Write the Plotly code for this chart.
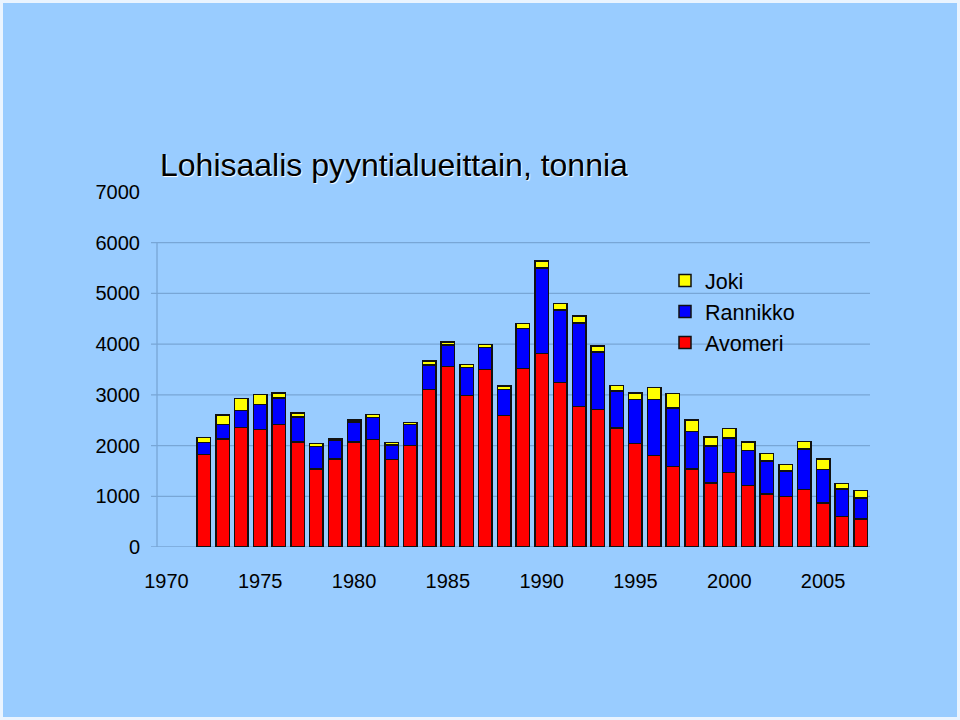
import plotly.graph_objects as go

years = list(range(1972, 2008))
avomeri = [1820, 2129, 2359, 2313, 2411, 2070, 1537, 1735, 2070, 2116,
           1721, 1997, 3101, 3561, 2989, 3502, 2595, 3515, 3817, 3239,
           2773, 2707, 2346, 2043, 1800, 1583, 1537, 1261, 1472, 1209,
           1045, 992, 1130, 867, 604, 552]
rannikko = [237, 289, 335, 499, 526, 492, 447, 374, 394, 440,
            290, 414, 486, 427, 552, 434, 506, 795, 1682, 1439,
            1642, 1137, 729, 861, 1104, 1157, 743, 730, 676, 696,
            650, 506, 802, 664, 539, 414]
joki = [105, 184, 230, 191, 98, 79, 53, 26, 39, 59,
        46, 40, 79, 59, 60, 59, 72, 99, 138, 125,
        138, 118, 112, 131, 237, 282, 223, 177, 184, 165,
        145, 131, 151, 204, 105, 151]
x_ticks = [1970, 1975, 1980, 1985, 1990, 1995, 2000, 2005]
y_ticks = [0, 1000, 2000, 3000, 4000, 5000, 6000, 7000]
grid_vals = [0, 1000, 2000, 3000, 4000, 5000, 6000]

BG = "#99CCFF"
GRID = "#78A6D6"
FONT = "Liberation Sans, Arial, sans-serif"

fig = go.Figure()
for name, vals, col in [("Avomeri", avomeri, "#FF0000"),
                        ("Rannikko", rannikko, "#0000FF"),
                        ("Joki", joki, "#FFFF00")]:
    fig.add_trace(go.Bar(x=years, y=vals, name=name, width=0.72,
                         marker=dict(color=col, line=dict(color="#111111", width=1.5))))

W, H = 960, 720
L, R, T, B = 157, 90, 192, 173
pw = W - L - R
ph = H - T - B

shapes = []
# background with thin light border
shapes.append(dict(type="rect", xref="paper", yref="paper", layer="below",
                   x0=(3 - L) / pw, x1=(W - 3 - L) / pw,
                   y0=-(B - 3) / ph, y1=(H - 3 - B) / ph,
                   fillcolor=BG, line=dict(width=0)))
for v in grid_vals:
    shapes.append(dict(type="line", xref="paper", yref="y", layer="below",
                       x0=-6 / pw, x1=1, y0=v, y1=v,
                       line=dict(color=GRID, width=1.3)))
shapes.append(dict(type="line", xref="paper", yref="y", layer="below",
                   x0=0, x1=0, y0=0, y1=6000, line=dict(color=GRID, width=1.3)))

fig.update_layout(
    width=W, height=H,
    margin=dict(l=L, r=R, t=T, b=B),
    paper_bgcolor="#EAF4FF",
    plot_bgcolor=BG,
    barmode="stack",
    font=dict(family=FONT, color="#000000", size=20),
    title=dict(text="Lohisaalis pyyntialueittain, tonnia",
               x=160 / W, xanchor="left", xref="container",
               y=1 - 165 / H, yanchor="middle", yref="container",
               font=dict(size=32, family=FONT, color="#000000",
                         shadow="1px 1px 1px #FFFFFF")),
    xaxis=dict(range=[1969.5, 2007.5], tickvals=x_ticks,
               ticktext=[str(t) for t in x_ticks],
               showgrid=False, zeroline=False, showline=False, ticks="",
               ticklabelstandoff=20, tickfont=dict(size=20)),
    yaxis=dict(range=[0, 7000], tickvals=y_ticks,
               ticktext=[str(t) for t in y_ticks],
               showgrid=False, zeroline=False, showline=False, ticks="",
               ticklabelstandoff=16, tickfont=dict(size=20)),
    legend=dict(x=(665 - L) / pw, y=(547 - 260) / ph, xanchor="left", yanchor="top",
                traceorder="reversed", bgcolor="rgba(0,0,0,0)",
                font=dict(size=21.5, family=FONT)),
    shapes=shapes,
    bargap=0.25,
)

fig.write_html("out.html",
               config={"displayModeBar": False},
               post_script="document.body.style.margin='0';document.body.style.overflow='hidden';")
